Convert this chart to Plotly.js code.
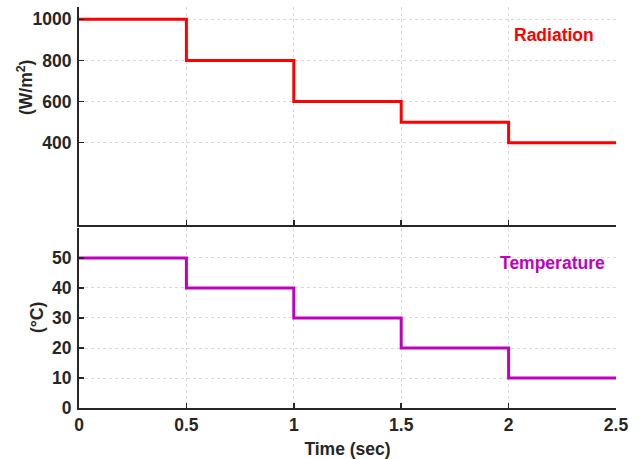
<!DOCTYPE html>
<html>
<head>
<meta charset="utf-8">
<script src="https://cdn.plot.ly/plotly-3.0.1.min.js"></script>
<style>html,body{margin:0;padding:0;background:#fff;}#chart{width:643px;height:459px;}</style>
</head>
<body>
<div id="chart"></div>
<script>
const time = [0, 0.5, 1, 1.5, 2, 2.5];
const radiation = [1000, 800, 600, 500, 400, 400];
const temperature = [50, 40, 30, 20, 10, 10];
const xTicks = [0, 0.5, 1, 1.5, 2, 2.5];
const xTickText = ['0', '0.5', '1', '1.5', '2', '2.5'];
const radTicks = [400, 600, 800, 1000];
const tempTicks = [0, 10, 20, 30, 40, 50];

const FONT = 'Liberation Sans, Arial, sans-serif';
const AX = '#262626';
const GRID = '#d9d9d9';
const FS = 17.5;

const traces = [
  {x: time, y: radiation, type: 'scatter', mode: 'lines', line: {shape: 'hv', color: '#ff0000', width: 3}, xaxis: 'x', yaxis: 'y', showlegend: false, hoverinfo: 'skip'},
  {x: time, y: temperature, type: 'scatter', mode: 'lines', line: {shape: 'hv', color: '#bf00bf', width: 3}, xaxis: 'x2', yaxis: 'y2', showlegend: false, hoverinfo: 'skip'}
];

const axCommon = {
  showline: true, linecolor: AX, linewidth: 2, mirror: false,
  ticks: 'inside', ticklen: 5, tickwidth: 1.5, tickcolor: AX,
  showgrid: true, gridcolor: GRID, griddash: 'dot', gridwidth: 1,
  zeroline: false,
  tickfont: {family: FONT, size: FS, color: AX, weight: 'bold'}
};

const layout = {
  width: 643, height: 459,
  margin: {l: 79, r: 27, t: 7, b: 51},
  paper_bgcolor: '#ffffff', plot_bgcolor: '#ffffff',
  font: {family: FONT, color: AX},
  xaxis: Object.assign({}, axCommon, {domain: [0, 1], range: [0, 2.5], tickvals: xTicks, ticktext: xTickText, showticklabels: false, anchor: 'y'}),
  yaxis: Object.assign({}, axCommon, {domain: [0.4564, 1], range: [0, 1060], tickvals: radTicks, anchor: 'x', ticklabelstandoff: 2}),
  xaxis2: Object.assign({}, axCommon, {domain: [0, 1], range: [0, 2.5], tickvals: xTicks, ticktext: xTickText, anchor: 'y2',
    title: {text: 'Time (sec)', font: {family: FONT, size: FS, color: AX, weight: 'bold'}, standoff: 12}}),
  yaxis2: Object.assign({}, axCommon, {domain: [0, 0.4489], range: [0, 60], tickvals: tempTicks, anchor: 'x2', ticklabelstandoff: 2}),
  annotations: [
    {xref: 'paper', yref: 'paper', x: (553.5-79)/537, y: (459-51-35)/401, text: 'Radiation', showarrow: false,
     xanchor: 'center', yanchor: 'middle', font: {family: FONT, size: FS, color: '#ff0000', weight: 'bold'}},
    {xref: 'paper', yref: 'paper', x: (552-79)/537, y: (459-51-263)/401, text: 'Temperature', showarrow: false,
     xanchor: 'center', yanchor: 'middle', font: {family: FONT, size: FS, color: '#bf00bf', weight: 'bold'}},
    {xref: 'paper', yref: 'paper', x: (25-79)/537, y: (459-51-88)/401, text: '(W/m<sup>2</sup>)', showarrow: false, textangle: -90,
     xanchor: 'center', yanchor: 'middle', font: {family: FONT, size: FS, color: AX, weight: 'bold'}},
    {xref: 'paper', yref: 'paper', x: (37-79)/537, y: (459-51-318)/401, text: '(°C)', showarrow: false, textangle: -90,
     xanchor: 'center', yanchor: 'middle', font: {family: FONT, size: FS, color: AX, weight: 'bold'}}
  ]
};

Plotly.newPlot('chart', traces, layout, {displayModeBar: false, staticPlot: true});
</script>
</body>
</html>
